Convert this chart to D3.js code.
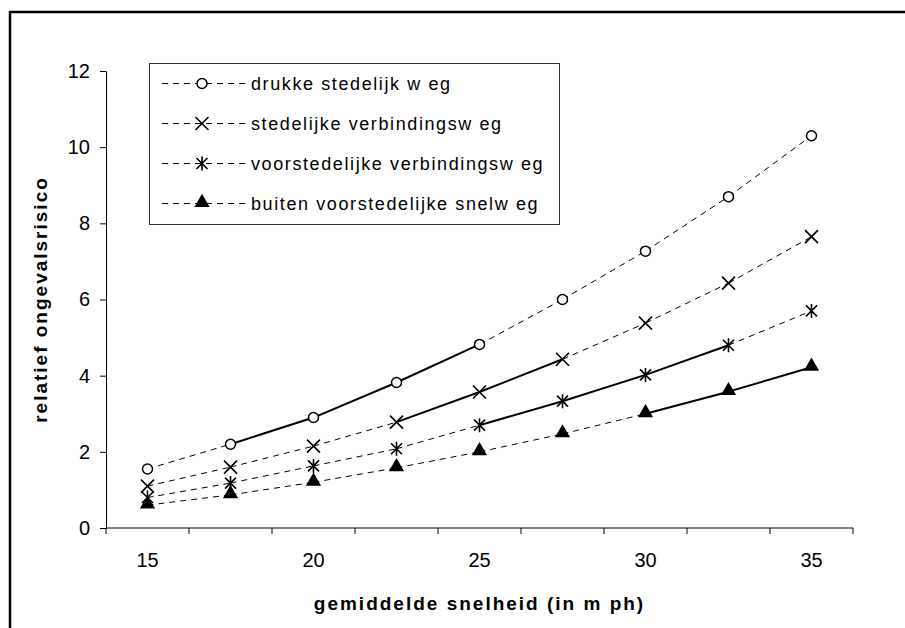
<!DOCTYPE html>
<html>
<head>
<meta charset="utf-8">
<script src="https://cdn.jsdelivr.net/npm/d3@7"></script>
<style>
  body { margin: 0; background: #fff; }
  svg text { font-family: Arial, "Liberation Sans", sans-serif; fill: #000; }
</style>
</head>
<body>
<div id="chart"></div>
<script>
// categories (speed in mph) and which ones get a label
const speeds = ["15", "17.5", "20", "22.5", "25", "27.5", "30", "32.5", "35"];
const speedLabels = ["15", "", "20", "", "25", "", "30", "", "35"];
const yTicks = [0, 2, 4, 6, 8, 10, 12];

const seriesNames = [
  "drukke stedelijk w eg",
  "stedelijke verbindingsw eg",
  "voorstedelijke verbindingsw eg",
  "buiten voorstedelijke snelw eg"
];
const drukke = [1.55, 2.2, 2.9, 3.82, 4.82, 6.0, 7.27, 8.7, 10.3];
const stedelijk = [1.1, 1.6, 2.15, 2.78, 3.57, 4.43, 5.38, 6.43, 7.65];
const voorstedelijk = [0.8, 1.18, 1.63, 2.08, 2.7, 3.33, 4.02, 4.8, 5.7];
const buiten = [0.6, 0.87, 1.2, 1.58, 2.0, 2.47, 3.0, 3.58, 4.22];
// index range of the solid part of each series (rest is dashed)
const solidRanges = [[1, 4], [3, 5], [4, 7], [6, 8]];

const allSeries = [drukke, stedelijk, voorstedelijk, buiten];

const width = 905;
const height = 628;
const margin = ({top: 71, right: 52, bottom: 100, left: 106});

const svg = d3.create('svg')
  .attr('width', width)
  .attr('height', height);

// outer frame (cut off at right and bottom)
svg.append('rect')
  .attr('x', 10).attr('y', 12)
  .attr('width', 1000).attr('height', 1000)
  .attr('fill', 'none')
  .attr('stroke', '#000')
  .attr('stroke-width', 2.5);

const xScale = d3.scaleBand()
  .domain(speeds)
  .range([margin.left, width - margin.right]);

const yScale = d3.scaleLinear()
  .domain([0, 12])
  .range([height - margin.bottom, margin.top]);

const cx = d => xScale(d) + xScale.bandwidth() / 2;

// y axis
svg.append('g')
  .attr('transform', `translate(${margin.left}, 0)`)
  .call(d3.axisLeft(yScale).tickValues(yTicks).tickSize(6).tickSizeOuter(0).tickPadding(10))
  .call(g => g.selectAll('text').attr('font-size', '20px').attr('font-family', null))
  .call(g => g.selectAll('line, path').attr('stroke', '#000'));

// x axis: labels at category centres, tick marks between categories
const xAxis = svg.append('g')
  .attr('transform', `translate(0, ${height - margin.bottom})`);
xAxis.append('line')
  .attr('x1', margin.left).attr('x2', width - margin.right)
  .attr('stroke', '#000');
xAxis.selectAll('.tick')
  .data(speeds.map(d => xScale(d)).concat([width - margin.right]))
  .join('line')
  .attr('x1', d => d).attr('x2', d => d)
  .attr('y1', 0).attr('y2', 6)
  .attr('stroke', '#000');
xAxis.selectAll('text')
  .data(speeds)
  .join('text')
  .attr('x', d => cx(d))
  .attr('y', 39)
  .attr('text-anchor', 'middle')
  .attr('font-size', '20px')
  .text((d, i) => speedLabels[i]);

// marker shapes
function drawMarker(g, k) {
  if (k === 0) {
    g.append('circle').attr('r', 5).attr('fill', '#fff').attr('stroke', '#000').attr('stroke-width', 1.5);
  } else if (k === 1) {
    g.append('path').attr('d', 'M-6.5,-6.5L6.5,6.5M-6.5,6.5L6.5,-6.5').attr('stroke', '#000').attr('stroke-width', 1.6);
  } else if (k === 2) {
    g.append('path').attr('d', 'M-5.5,-5.5L5.5,5.5M-5.5,5.5L5.5,-5.5M0,-7L0,7').attr('stroke', '#000').attr('stroke-width', 1.6);
  } else {
    g.append('path').attr('d', d3.symbol(d3.symbolTriangle, 100)()).attr('transform', 'translate(0,-1)').attr('fill', '#000');
  }
}

// lines, segment by segment
allSeries.forEach((vals, k) => {
  const segs = d3.range(vals.length - 1);
  const solid = i => i >= solidRanges[k][0] && i < solidRanges[k][1];
  svg.append('g')
    .selectAll('line')
    .data(segs)
    .join('line')
    .attr('x1', i => cx(speeds[i]))
    .attr('y1', i => yScale(vals[i]))
    .attr('x2', i => cx(speeds[i + 1]))
    .attr('y2', i => yScale(vals[i + 1]))
    .attr('stroke', '#000')
    .attr('stroke-width', i => solid(i) ? 2 : 1)
    .attr('stroke-dasharray', i => solid(i) ? null : '6,5');
});

// markers
allSeries.forEach((vals, k) => {
  svg.append('g')
    .selectAll('g')
    .data(vals)
    .join('g')
    .attr('transform', (d, i) => `translate(${cx(speeds[i])}, ${yScale(d)})`)
    .each(function() { drawMarker(d3.select(this), k); });
});

// legend
const legend = svg.append('g');
legend.append('rect')
  .attr('x', 149.5).attr('y', 63.5)
  .attr('width', 410).attr('height', 161)
  .attr('fill', '#fff')
  .attr('stroke', '#333');
seriesNames.forEach((name, k) => {
  const ly = 83.5 + k * 40;
  legend.append('line')
    .attr('x1', 162).attr('x2', 247)
    .attr('y1', ly).attr('y2', ly)
    .attr('stroke', '#000')
    .attr('stroke-dasharray', '6,5');
  drawMarker(legend.append('g').attr('transform', `translate(202, ${ly})`), k);
  legend.append('text')
    .attr('x', 251).attr('y', ly)
    .attr('dy', '0.35em')
    .attr('font-size', '18px')
    .attr('letter-spacing', '1.6px')
    .text(name);
});

// axis titles
svg.append('text')
  .attr('transform', `translate(47, ${(margin.top + height - margin.bottom) / 2}) rotate(-90)`)
  .attr('text-anchor', 'middle')
  .attr('font-size', '19px')
  .attr('font-weight', 'bold')
  .attr('letter-spacing', '2px')
  .text('relatief ongevalsrisico');

svg.append('text')
  .attr('x', (margin.left + width - margin.right) / 2)
  .attr('y', 610)
  .attr('text-anchor', 'middle')
  .attr('font-size', '19px')
  .attr('font-weight', 'bold')
  .attr('letter-spacing', '2px')
  .text('gemiddelde snelheid (in m ph)');

document.getElementById("chart").appendChild(svg.node());
</script>
</body>
</html>
